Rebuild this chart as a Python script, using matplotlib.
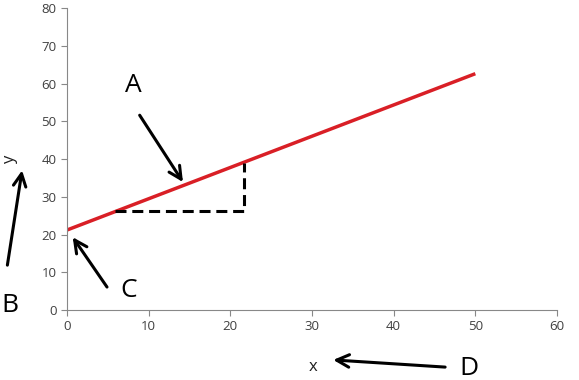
import matplotlib.pyplot as plt

# red line endpoints (x, y)
line_x = [0, 50]
line_y = [21.2, 62.6]

# dashed slope triangle
tri_x = [5.9, 21.7, 21.7]
tri_y = [26.2, 26.2, 38.9]

# letter labels: text, text position, arrow tail, arrow head
letters = ['A', 'B', 'C', 'D']
letter_xy = [(8.1, 59.5), (-7.0, 1.3), (7.6, 5.3), (49.2, -15.6)]
arrow_from = [(8.9, 51.6), (-7.3, 11.9), (4.9, 6.1), (46.3, -15.1)]
arrow_to = [(14.2, 33.9), (-5.5, 37.0), (0.7, 19.3), (32.6, -13.2)]

x_ticks = [0, 10, 20, 30, 40, 50, 60]
y_ticks = [0, 10, 20, 30, 40, 50, 60, 70, 80]

plt.rcParams['font.family'] = ['Open Sans', 'DejaVu Sans']

fig = plt.figure(figsize=(5.79, 3.80), dpi=100)
ax = fig.add_axes([0.1157, 0.184, 0.8463, 0.795])

ax.plot(line_x, line_y, color='#d91f26', lw=2.5, solid_capstyle='butt')
ax.plot(tri_x, tri_y, color='black', lw=2.2, ls=(0, (3.6, 1.9)))

ax.set_xlim(0, 60)
ax.set_ylim(0, 80)
ax.set_xticks(x_ticks)
ax.set_yticks(y_ticks)
ax.tick_params(labelsize=9.5, labelcolor='#404040', color='#888888',
               length=4, width=0.8)
ax.spines['top'].set_visible(False)
ax.spines['right'].set_visible(False)
ax.spines['left'].set_color('#888888')
ax.spines['bottom'].set_color('#888888')

ax.set_xlabel('x', fontsize=12, color='#202020')
ax.set_ylabel('y', fontsize=12, color='#202020')
ax.xaxis.set_label_coords(0.502, -0.162)
ax.yaxis.set_label_coords(-0.10, 0.497)

for lab, txy, a0, a1 in zip(letters, letter_xy, arrow_from, arrow_to):
    ax.text(txy[0], txy[1], lab, fontsize=19, ha='center', va='center',
            clip_on=False)
    ax.annotate('', xy=a1, xytext=a0, annotation_clip=False,
                arrowprops=dict(arrowstyle='->,head_length=0.5,head_width=0.25',
                                color='black', lw=2.2,
                                mutation_scale=18, shrinkA=0, shrinkB=0))

plt.savefig('out.png', dpi=100)
